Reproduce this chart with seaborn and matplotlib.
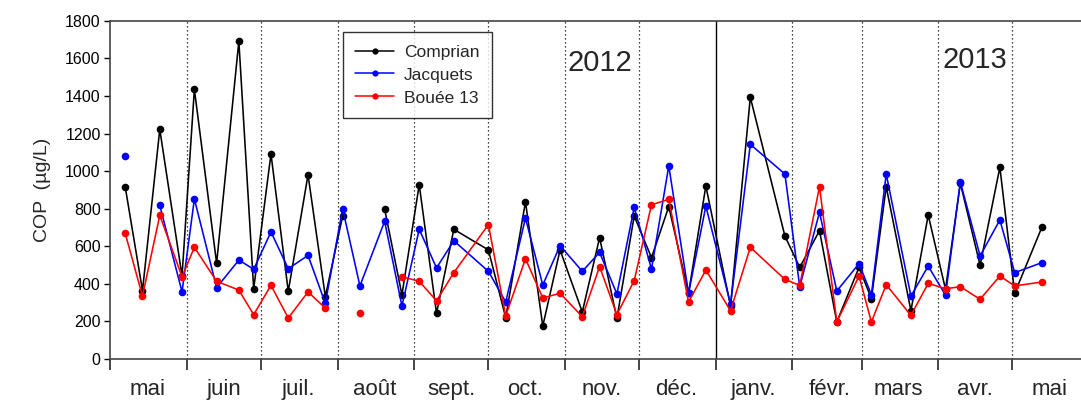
import numpy as np
import pandas as pd
import matplotlib
matplotlib.use('Agg')
import matplotlib.pyplot as plt
import matplotlib.dates as mdates
from matplotlib.lines import Line2D
import seaborn as sns

# ---------------- data ----------------
dates = ['2012-05-07', '2012-05-14', '2012-05-21', '2012-05-30', '2012-06-04',
         '2012-06-13', '2012-06-22', '2012-06-28', '2012-07-05', '2012-07-12',
         '2012-07-20', '2012-07-27', '2012-08-03', '2012-08-10', '2012-08-20',
         '2012-08-27', '2012-09-03', '2012-09-10', '2012-09-17', '2012-10-01',
         '2012-10-08', '2012-10-16', '2012-10-23', '2012-10-30', '2012-11-08',
         '2012-11-15', '2012-11-22', '2012-11-29', '2012-12-06', '2012-12-13',
         '2012-12-21', '2012-12-28', '2013-01-07', '2013-01-15', '2013-01-29',
         '2013-02-04', '2013-02-12', '2013-02-19', '2013-02-28', '2013-03-05',
         '2013-03-11', '2013-03-21', '2013-03-28', '2013-04-04', '2013-04-10',
         '2013-04-18', '2013-04-26', '2013-05-02', '2013-05-13']

comprian = [916, 362, 1222, 440, 1436, 508, 1692, 372, 1091, 358,
            980, 330, 760, np.nan, 797, 340, 927, 241, 689, 579,
            218, 836, 173, 579, 248, 644, 214, 760, 538, 810,
            348, 920, 280, 1393, 653, 486, 682, 195, 486, 319,
            916, 255, 765, 369, 935, 497, 1020, 348, 700]

jacquets = [1080, np.nan, 817, 355, 851, 378, 525, 476, 675, 479,
            550, 294, 799, 387, 732, 280, 689, 483, 628, 465,
            301, 749, 392, 602, 465, 566, 344, 806, 477, 1027,
            348, 813, 290, 1142, 984, 383, 780, 360, 506, 340,
            984, 333, 493, 337, 941, 547, 739, 458, 511]

bouee13 = [668, 333, 764, 436, 593, 412, 365, 234, 390, 216,
           355, 269, np.nan, 241, np.nan, 436, 412, 308, 458, 714,
           227, 532, 323, 348, 223, 490, 234, 415, 820, 849,
           301, 472, 255, 593, 422, 390, 916, 195, 440, 195,
           394, 230, 401, 372, 383, 316, 440, 387, 408]

series_names = ['Comprian', 'Jacquets', 'Bouée 13']
series_colors = ['black', 'blue', 'red']

month_labels = ['mai', 'juin', 'juil.', 'août', 'sept.', 'oct.', 'nov.',
                'déc.', 'janv.', 'févr.', 'mars', 'avr.', 'mai']
year_labels = ['2012', '2013']
y_label = 'COP  (µg/L)'

# ---------------- style ----------------
sns.set_style('ticks')
plt.rcParams['font.family'] = ['Liberation Sans', 'DejaVu Sans']

frames = []
for name, vals in zip(series_names, [comprian, jacquets, bouee13]):
    v = np.array(vals, dtype=float)
    seg = np.cumsum(np.isnan(v))
    d = pd.DataFrame({'date': pd.to_datetime(dates), 'val': v,
                      'seg': seg, 'site': name})
    frames.append(d.dropna())
df = pd.concat(frames, ignore_index=True)

fig = plt.figure(figsize=(10.81, 4.03), dpi=100)
ax = fig.add_axes([0.1021, 0.1104, 0.8979, 0.8375])

# month boundaries
x0 = pd.Timestamp('2012-05-01')
x1 = pd.Timestamp('2013-05-28 20:00')
month_starts = pd.date_range('2012-05-01', '2013-05-01', freq='MS')
for ms in month_starts[1:]:
    if ms.month == 1:
        ax.axvline(ms, color='black', lw=1.0, zorder=1)
    else:
        ax.axvline(ms, color='black', lw=0.9, ls=(0, (1, 2.2)), zorder=1)

sns.lineplot(data=df, x='date', y='val', hue='site', units='seg',
             estimator=None, sort=False, hue_order=series_names,
             palette=dict(zip(series_names, series_colors)),
             marker='o', markersize=5.5, markeredgewidth=0,
             lw=1.15, legend=False, ax=ax, zorder=3)

ax.set_xlim(x0, x1)
ax.set_ylim(0, 1800)
ax.set_yticks(np.arange(0, 1801, 200))
ax.tick_params(axis='y', labelsize=11.5, direction='out', length=4, width=1,
               pad=3, colors='black')

ax.set_xticks(month_starts)
ax.set_xticklabels([''] * len(month_starts))
mid = [ms + pd.Timedelta(days=15) for ms in month_starts]
ax.set_xticks(mid, minor=True)
ax.set_xticklabels(month_labels, minor=True)
ax.tick_params(axis='x', which='major', direction='out', length=8, width=1.2)
ax.tick_params(axis='x', which='minor', length=0, labelsize=16, pad=15)

ax.set_xlabel('')
ax.set_ylabel(y_label, fontsize=14, labelpad=10)

for sp in ['left', 'bottom', 'top']:
    ax.spines[sp].set_color('#444444')
    ax.spines[sp].set_linewidth(1.2)
ax.spines['right'].set_visible(False)

ax.text(0.5044, 0.8756, year_labels[0], transform=ax.transAxes,
        fontsize=21, ha='center', va='center')
ax.text(0.8908, 0.8844, year_labels[1], transform=ax.transAxes,
        fontsize=21, ha='center', va='center')

handles = [Line2D([], [], color=c, lw=1.1, marker='o', markersize=4.5,
                  markeredgewidth=0) for c in series_colors]
leg = ax.legend(handles, series_names, loc='upper left',
                bbox_to_anchor=(0.240, 0.9665), borderaxespad=0,
                fontsize=12.5, frameon=True, fancybox=False,
                handlelength=2.2, handletextpad=0.6, labelspacing=0.45,
                borderpad=0.7)
leg.get_frame().set_edgecolor('black')
leg.get_frame().set_linewidth(1.0)

fig.savefig('out.png', dpi=100)
